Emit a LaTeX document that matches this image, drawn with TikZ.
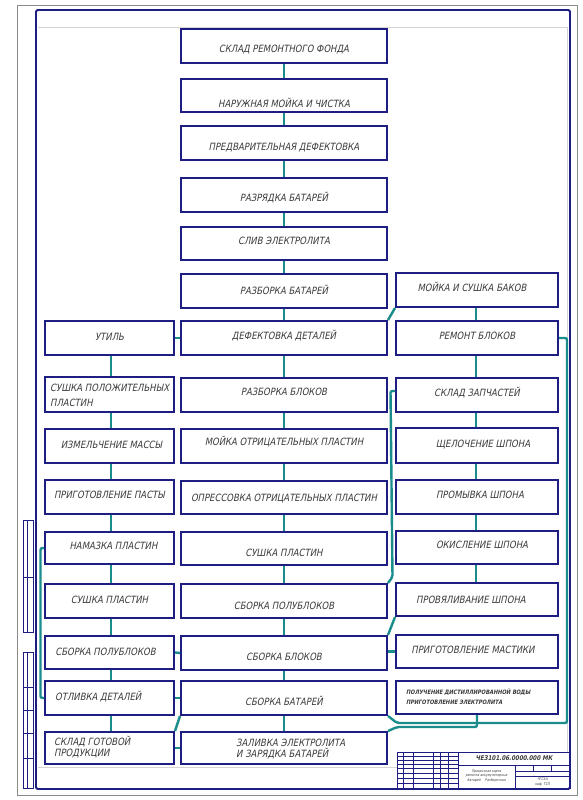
\documentclass[tikz,border=0pt]{standalone}
\usepackage{fontspec}
\newfontfamily\gost[FakeStretch=0.85,FakeSlant=0.2]{DejaVu Sans}
\definecolor{navy}{HTML}{1E1E82}
\definecolor{tealc}{HTML}{1A8C8C}
\definecolor{txtc}{HTML}{3A3A3A}
\definecolor{sheet}{HTML}{8A8A8A}
\definecolor{faint}{HTML}{D4D4D4}
\newcommand\mybox[5]{\node[bx, minimum width={#4pt-#2pt}, minimum height={#5pt-#3pt}] (#1) at ({(#2+#4)/2},{(#3+#5)/2}) {};}
\begin{document}
\begin{tikzpicture}[x=1pt,y=-1pt,
  bx/.style={draw=navy, line width=2pt, fill=white, inner sep=0pt, rectangle},
  lnk/.style={draw=tealc, line width=2.4pt, rounded corners=2pt},
  txt/.style={font=\gost\fontsize{10}{12}\selectfont, text=txtc, inner sep=0pt, align=center, text height=7.3pt, text depth=0pt},
  txtl/.style={font=\gost\fontsize{10}{12}\selectfont, text=txtc, inner sep=0pt, align=left, anchor=west, text depth=0pt},
  small/.style={font=\gost\bfseries\fontsize{6}{9.6}\selectfont, text=txtc, inner sep=0pt, align=left, anchor=west, text height=14pt, text depth=0pt},
  frm/.style={draw=navy, line width=1.8pt},
  thin/.style={draw=navy, line width=0.9pt}]
\useasboundingbox (0,0) rectangle (582,800);
\fill[white] (0,0) rectangle (582,800);
% sheet and frame
\draw[sheet, line width=0.8pt] (17,5) rectangle (577,795);
\draw[faint, line width=0.8pt] (38,27) -- (567,27) -- (567,752);
\draw[faint, line width=0.8pt] (38,767) -- (397,767);
\draw[frm, rounded corners=1.5pt] (36,10) rectangle (570,789);
% left margin strip
\draw[thin] (23,520) rectangle (33,632);
\draw[thin] (27.5,520) -- (27.5,632);
\draw[thin] (23,577) -- (33,577);
\draw[thin] (23,652) rectangle (33,788);
\draw[thin] (27.5,652) -- (27.5,788);
\foreach \yy in {687,710,733,758} \draw[thin] (23,\yy) -- (33,\yy);
% title block
\draw[thin] (397,752) rectangle (570,788);
\draw[thin] (458,752) -- (458,788);
\draw[thin] (458,765) -- (570,765);
\draw[thin] (515,765) -- (515,788);
\draw[thin] (515,771) -- (570,771);
\draw[thin] (515,776) -- (570,776);
\draw[thin] (533,765) -- (533,771);
\draw[thin] (551,765) -- (551,771);
\foreach \xx in {403.3,413.3,433.3,440,448.3} \draw[thin] (\xx,752) -- (\xx,788);
\foreach \yy in {756,760,764,768,773,778,783} \draw[thin] (397,\yy) -- (458,\yy);
\node[font=\gost\bfseries\fontsize{6.5}{7}\selectfont, text=txtc, inner sep=0pt] (code) at (514,758.5) {ЧЕЗ101.06.0000.000 МК};
\node[font=\gost\fontsize{3.6}{4.3}\selectfont, text=txtc, inner sep=0pt, align=center] (ttl) at (486.5,776) {Процессная карта\\ ремонта аккумуляторных\\ батарей \quad Разборочная};
\node[font=\gost\fontsize{3.6}{4.3}\selectfont, text=txtc, inner sep=0pt, align=center] (org) at (542.5,782) {ЧГСХА\\ каф. ТСП};
% boxes: center column
\mybox{c1}{181}{29}{387}{63}
\mybox{c2}{181}{79}{387}{112}
\mybox{c3}{181}{126}{387}{160}
\mybox{c4}{181}{178}{387}{212}
\mybox{c5}{181}{227}{387}{260}
\mybox{c6}{181}{274}{387}{308}
\mybox{c7}{181}{321}{387}{355}
\mybox{c8}{181}{378}{387}{412}
\mybox{c9}{181}{429}{387}{463}
\mybox{c10}{181}{481}{387}{514}
\mybox{c11}{181}{532}{387}{565}
\mybox{c12}{181}{584}{387}{618}
\mybox{c13}{181}{636}{387}{670}
\mybox{c14}{181}{681}{387}{715}
\mybox{c15}{181}{732}{387}{764}
% left column
\mybox{l1}{45}{321}{174}{355}
\mybox{l2}{45}{377}{174}{412}
\mybox{l3}{45}{429}{174}{463}
\mybox{l4}{45}{480}{174}{514}
\mybox{l5}{45}{532}{174}{564}
\mybox{l6}{45}{584}{174}{618}
\mybox{l7}{45}{636}{174}{669}
\mybox{l8}{45}{681}{174}{715}
\mybox{l9}{45}{732}{174}{764}
% right column
\mybox{r0}{396}{273}{558}{307}
\mybox{r1}{396}{321}{558}{355}
\mybox{r2}{396}{378}{558}{412}
\mybox{r3}{396}{428}{558}{463}
\mybox{r4}{396}{480}{558}{514}
\mybox{r5}{396}{531}{558}{564}
\mybox{r6}{396}{583}{558}{616}
\mybox{r7}{396}{635}{558}{668}
\mybox{r8}{396}{681}{558}{714}
% texts
\node[txt] (tc1) at ([yshift=-3pt]c1.center) {СКЛАД РЕМОНТНОГО ФОНДА};
\node[txt] (tc2) at ([yshift=-8pt]c2.center) {НАРУЖНАЯ МОЙКА И ЧИСТКА};
\node[txt] (tc3) at ([yshift=-4pt]c3.center) {ПРЕДВАРИТЕЛЬНАЯ ДЕФЕКТОВКА};
\node[txt] (tc4) at ([yshift=-3pt]c4.center) {РАЗРЯДКА БАТАРЕЙ};
\node[txt] (tc5) at ([yshift=2.5pt]c5.center) {СЛИВ ЭЛЕКТРОЛИТА};
\node[txt] (tc6) at (c6.center) {РАЗБОРКА БАТАРЕЙ};
\node[txt] (tc7) at ([yshift=2pt]c7.center) {ДЕФЕКТОВКА ДЕТАЛЕЙ};
\node[txt] (tc8) at ([yshift=3pt]c8.center) {РАЗБОРКА БЛОКОВ};
\node[txt] (tc9) at ([yshift=4pt]c9.center) {МОЙКА ОТРИЦАТЕЛЬНЫХ ПЛАСТИН};
\node[txt] (tc10) at (c10.center) {ОПРЕССОВКА ОТРИЦАТЕЛЬНЫХ ПЛАСТИН};
\node[txt] (tc11) at ([yshift=-4pt]c11.center) {СУШКА ПЛАСТИН};
\node[txt] (tc12) at ([yshift=-5pt]c12.center) {СБОРКА ПОЛУБЛОКОВ};
\node[txt] (tc13) at ([yshift=-4pt]c13.center) {СБОРКА БЛОКОВ};
\node[txt] (tc14) at ([yshift=-4pt]c14.center) {СБОРКА БАТАРЕЙ};
\node[txtl, text height=18.9pt] (tc15) at (236,748.5) {ЗАЛИВКА ЭЛЕКТРОЛИТА\\[-0.4pt]И ЗАРЯДКА БАТАРЕЙ};
\node[txt] (tl1) at ([yshift=1pt]l1.center) {УТИЛЬ};
\node[txtl, text height=21.7pt] (tl2) at (50,395.5) {СУШКА ПОЛОЖИТЕЛЬНЫХ\\[2.4pt]ПЛАСТИН};
\node[txt] (tl3) at ([yshift=1pt,xshift=2pt]l3.center) {ИЗМЕЛЬЧЕНИЕ МАССЫ};
\node[txt] (tl4) at ([yshift=2pt]l4.center) {ПРИГОТОВЛЕНИЕ ПАСТЫ};
\node[txt] (tl5) at ([yshift=2pt,xshift=4pt]l5.center) {НАМАЗКА ПЛАСТИН};
\node[txt] (tl6) at ([yshift=1pt]l6.center) {СУШКА ПЛАСТИН};
\node[txt] (tl7) at ([yshift=1pt,xshift=-4pt]l7.center) {СБОРКА ПОЛУБЛОКОВ};
\node[txtl, text height=7.3pt] (tl8) at (55,697) {ОТЛИВКА ДЕТАЛЕЙ};
\node[txtl, text height=18.9pt] (tl9) at (54,747.5) {СКЛАД ГОТОВОЙ\\[-0.4pt]ПРОДУКЦИИ};
\node[txt] (tr0) at ([yshift=2pt,xshift=-5pt]r0.center) {МОЙКА И СУШКА БАКОВ};
\node[txt] (tr1) at ([yshift=2pt]r1.center) {РЕМОНТ БЛОКОВ};
\node[txt] (tr2) at ([yshift=2pt]r2.center) {СКЛАД ЗАПЧАСТЕЙ};
\node[txt] (tr3) at ([yshift=2pt,xshift=6pt]r3.center) {ЩЕЛОЧЕНИЕ ШПОНА};
\node[txt] (tr4) at ([yshift=2pt,xshift=3pt]r4.center) {ПРОМЫВКА ШПОНА};
\node[txt] (tr5) at ([yshift=2.5pt,xshift=5pt]r5.center) {ОКИСЛЕНИЕ ШПОНА};
\node[txt] (tr6) at ([xshift=-6pt]r6.center) {ПРОВЯЛИВАНИЕ ШПОНА};
\node[txt] (tr7) at ([yshift=1.5pt,xshift=-4pt]r7.center) {ПРИГОТОВЛЕНИЕ МАСТИКИ};
\node[small] (tr8) at (406,697.5) {ПОЛУЧЕНИЕ ДИСТИЛЛИРОВАННОЙ ВОДЫ\\ПРИГОТОВЛЕНИЕ ЭЛЕКТРОЛИТА};
% connectors: center column
\foreach \a/\b in {c1/c2,c2/c3,c3/c4,c4/c5,c5/c6,c6/c7,c7/c8,c8/c9,c9/c10,c10/c11,c11/c12,c12/c13,c13/c14,c14/c15}
  \draw[lnk] (\a.south) -- (\b.north);
% left column
\foreach \a/\b in {l1/l2,l2/l3,l3/l4,l4/l5,l5/l6,l6/l7,l7/l8,l8/l9}
  \draw[lnk] ([xshift=1.5pt]\a.south) -- ([xshift=1.5pt]\b.north);
% right column
\foreach \a/\b in {r0/r1,r1/r2,r2/r3,r3/r4,r4/r5,r5/r6}
  \draw[lnk] ([xshift=-1pt]\a.south) -- ([xshift=-1pt]\b.north);
% horizontal links
\draw[lnk] (c7.west) -- (l1.east);
\draw[lnk] (l7.east) -- (c13.west);
\draw[lnk] (l8.east) -- (c14.west |- l8.east);
\draw[lnk] (c15.west) -- (l9.east |- c15.west);
\draw[lnk] (r7.west) -- (c13.east |- r7.west);
% diagonals
\draw[lnk] (c7.north east) -- (r0.south west);
\draw[lnk] (c13.north east) -- (r6.south west);
\draw[lnk] (c14.south west) -- (l9.north east);
% long routes
\draw[lnk] (r1.east) -- ++(8,0) |- ([xshift=9pt,yshift=-7pt]c14.south east) -- (c14.south east);
\draw[lnk] (r8.south) |- ([xshift=9pt,yshift=4pt]c15.north east) -- (c15.north east);
\draw[lnk] ([yshift=4pt]r2.west) -- ++(-4.5,0) -- ([xshift=4.5pt,yshift=6pt]c12.north east) -- (c12.north east);
\draw[lnk] (l5.west) -- ++(-3.5,0) |- (l8.west);
\end{tikzpicture}
\end{document}
